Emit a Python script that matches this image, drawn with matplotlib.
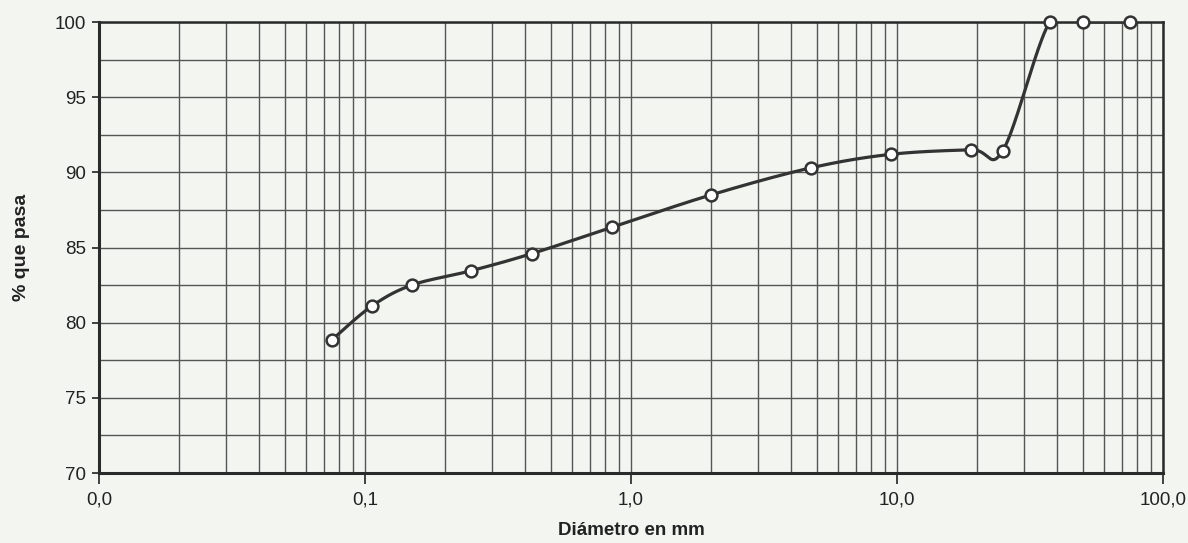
import numpy as np
import matplotlib
matplotlib.use("Agg")
import matplotlib.pyplot as plt
from matplotlib.ticker import FixedLocator, FixedFormatter, LogLocator, MultipleLocator

# Sieve openings (mm) and cumulative percent passing
diametro = [0.075, 0.106, 0.15, 0.25, 0.425, 0.85, 2.0, 4.75, 9.5, 19.0, 25.0, 37.5, 50.0, 75.0]
pasa = [78.85, 81.1, 82.5, 83.45, 84.6, 86.35, 88.5, 90.3, 91.2, 91.5, 91.45, 100.0, 100.0, 100.0]

x_ticks = [0.01, 0.1, 1.0, 10.0, 100.0]
x_tick_labels = ["0,0", "0,1", "1,0", "10,0", "100,0"]
y_ticks = [70, 75, 80, 85, 90, 95, 100]

paper = "#f3f5f0"
ink = "#333333"
grid_c = "#555555"


def smooth_curve(xs, ys, n=40):
    """Catmull-Rom spline through the points, built in log10(x) space."""
    lx = np.log10(np.asarray(xs, float))
    yy = np.asarray(ys, float)
    P = np.column_stack([lx, yy])
    Pp = np.vstack([P[0], P, P[-1]])
    out = []
    t = np.linspace(0, 1, n)[:, None]
    for i in range(1, len(Pp) - 2):
        p0, p1, p2, p3 = Pp[i - 1], Pp[i], Pp[i + 1], Pp[i + 2]
        b0 = p1
        b1 = p1 + (p2 - p0) / 6.0
        b2 = p2 - (p3 - p1) / 6.0
        b3 = p2
        seg = ((1 - t) ** 3) * b0 + 3 * ((1 - t) ** 2) * t * b1 + 3 * (1 - t) * t ** 2 * b2 + t ** 3 * b3
        out.append(seg if i == 1 else seg[1:])
    C = np.vstack(out)
    return 10 ** C[:, 0], C[:, 1]


plt.rcParams["font.family"] = ["Liberation Sans", "DejaVu Sans"]

fig = plt.figure(figsize=(11.88, 5.43), dpi=100, facecolor=paper)
ax = fig.add_axes([99 / 1188, 1 - 473 / 543, (1163 - 99) / 1188, (473 - 22) / 543])
ax.set_facecolor(paper)

ax.set_xscale("log")
ax.set_xlim(0.01, 100)
ax.set_ylim(70, 100)

ax.xaxis.set_major_locator(FixedLocator(x_ticks))
ax.xaxis.set_major_formatter(FixedFormatter(x_tick_labels))
ax.xaxis.set_minor_locator(LogLocator(base=10, subs=np.arange(2, 10)))
ax.xaxis.set_minor_formatter(plt.NullFormatter())
ax.yaxis.set_major_locator(FixedLocator(y_ticks))
ax.yaxis.set_minor_locator(MultipleLocator(2.5))

ax.grid(True, which="both", color=grid_c, linewidth=1.0)
ax.set_axisbelow(True)

ax.tick_params(axis="both", which="major", labelsize=13.5, colors="#222222", width=1.2)
ax.tick_params(axis="y", which="major", length=5, pad=4)
ax.tick_params(axis="x", which="major", length=8, pad=5)
ax.tick_params(axis="both", which="minor", length=0)

for side, sp in ax.spines.items():
    sp.set_color("#2a2a2a")
    sp.set_linewidth(2.2 if side in ("left", "bottom") else 1.8)

cx, cy = smooth_curve(diametro, pasa)
ax.plot(cx, cy, color=ink, linewidth=2.3, zorder=3, solid_capstyle="round")
ax.plot(diametro, pasa, linestyle="none", marker="o", markersize=8.5,
        markerfacecolor="white", markeredgecolor=ink, markeredgewidth=1.8,
        zorder=4, clip_on=False)

ax.set_xlabel("Diámetro en mm", fontsize=13.5, fontweight="bold", labelpad=10, color="#222222")
ax.set_ylabel("% que pasa", fontsize=14, fontweight="bold", labelpad=18, color="#222222")

fig.savefig("out.png", dpi=100, facecolor=paper)
